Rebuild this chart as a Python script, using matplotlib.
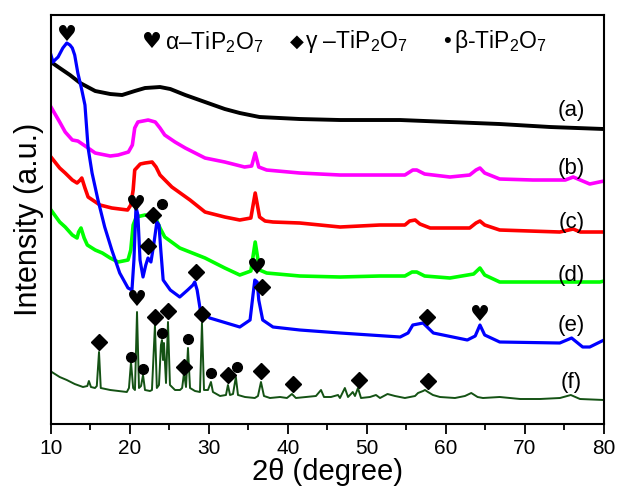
import matplotlib
matplotlib.use('Agg')
import matplotlib.pyplot as plt
from matplotlib.ticker import MultipleLocator

plt.rcParams['font.family'] = ['Liberation Sans', 'DejaVu Sans']
plt.rcParams['mathtext.fontset'] = 'custom'
plt.rcParams['mathtext.rm'] = 'Liberation Sans'
plt.rcParams['mathtext.it'] = 'Liberation Sans'

# XRD patterns, 2theta (degree) vs intensity (a.u., stacked)
a_x = [10, 11.1, 12.4, 13.7, 15.6, 17.5, 19.0, 20.6, 21.9, 23.8, 25.1, 27.0, 29.5, 32.0, 33.9,
       36.4, 41.5, 46.6, 54.2, 60.5, 66.8, 73.2, 80]
a_y = [362, 356, 349, 341, 333, 330, 329, 333, 336, 337, 335, 329, 322, 315, 311,
       307, 305, 304, 304, 302, 300, 297, 295]

b_x = [10, 11.1, 11.8, 12.7, 13.4, 14.7, 15.6, 17.5, 18.5, 19.8, 20.3, 20.6, 21.0, 22.3, 23.2,
       23.8, 24.4, 25.7, 27.0, 29.5, 32.0, 34.5, 35.4, 35.85, 36.3, 37.3, 41.5, 46.6,
       51.6, 54.8, 55.8, 56.3, 57.3, 60.5, 63.0, 63.8, 64.3, 64.9, 66.8, 71.0, 75.1, 76.1,
       77.0, 78.2, 80]
b_y = [317, 302, 292, 284, 283, 276, 271, 268, 269, 272, 279, 296, 302, 304, 302,
       296, 289, 282, 276, 266, 262, 257, 258, 271, 257, 254, 251, 249,
       249, 249, 254, 254, 250, 247, 249, 254, 256, 251, 245, 244, 244, 247,
       244, 240, 243]

c_x = [10, 11.1, 11.8, 12.7, 13.3, 13.7, 13.9, 14.3, 14.7, 16.2, 17.7, 19.7, 20.1, 20.4, 20.6,
       21.3, 21.9, 22.8, 23.3, 23.8, 25.3, 27.6, 29.5, 32.0, 33.9, 35.3, 35.85, 36.4,
       37.1, 38.1, 41.5, 46.6, 51.6, 54.8, 55.4, 56.1, 56.7, 58.0, 63.0, 63.8, 64.3, 64.9,
       66.8, 74.4, 76.1, 77.0, 80]
c_y = [267, 256, 251, 244, 241, 244, 246, 236, 227, 219, 216, 214, 219, 234, 254,
       260, 261, 262, 257, 249, 237, 224, 212, 207, 204, 206, 231, 207,
       203, 202, 201, 197, 199, 199, 203, 204, 200, 196, 196, 201, 203, 199,
       194, 192, 195, 192, 192]

d_x = [10, 11.1, 11.8, 12.7, 13.3, 13.5, 13.8, 14.2, 14.6, 15.6, 16.5, 17.5, 18.5, 19.75, 20.1,
       20.4, 20.8, 21.9, 23.2, 23.8, 24.4, 26.3, 29.5, 32.0, 33.9, 35.3, 35.85, 36.4,
       37.3, 41.5, 46.6, 51.6, 54.8, 55.7, 56.3, 57.3, 60.5, 63.5, 64.3, 64.9, 66.8, 79.5, 80]
d_y = [214, 202, 197, 189, 186, 192, 196, 186, 179, 174, 171, 166, 162, 164, 174,
       199, 207, 209, 207, 196, 187, 176, 166, 156, 149, 153, 182, 154,
       151, 148, 147, 148, 148, 152, 152, 148, 146, 150, 156, 149, 142, 142, 143]

e_x = [10, 10.25, 10.5, 10.9, 11.5, 12.0, 12.4, 12.7, 13.0, 13.4, 13.9, 14.3, 14.7, 15.2, 15.95,
       16.8, 17.7, 18.7, 19.75, 20.25, 20.5, 20.76, 21.0, 21.27, 21.65, 22.0, 22.28, 22.65,
       23.0, 23.4, 23.67, 23.9, 24.2, 25.1, 26.3, 27.3, 27.97, 28.2, 28.5, 28.9, 30.1, 33.9,
       35.2, 35.57, 35.8, 36.1, 36.3, 36.8, 38.1, 41.5, 46.6, 54.2, 55.2, 55.8, 57.1, 58.4,
       62.7, 63.7, 64.3, 64.9, 66.8, 74.4, 75.9, 77.3, 78.2, 80]
e_y = [369, 362, 364, 367, 376, 381, 379, 376, 369, 351, 334, 319, 276, 251, 224,
       197, 174, 151, 136, 134, 164, 217, 209, 164, 147, 159, 166, 162,
       179, 202, 199, 174, 144, 134, 127, 134, 139, 142, 134, 114, 106, 97,
       104, 129, 144, 142, 124, 104, 97, 94, 91, 87, 91, 99, 101, 91,
       84, 88, 99, 89, 82, 81, 86, 77, 77, 84]

f_x = [10.1, 11.1, 12.0, 13.0, 14.05, 14.6, 14.8, 15.06, 15.57, 15.8, 16.08, 16.3, 17.5, 19.6,
       19.87, 20.13, 20.4, 20.63, 20.89, 21.14, 21.4, 21.65, 21.9, 22.53, 22.78, 23.16, 23.4,
       23.67, 23.92, 24.05, 24.18, 24.3, 24.56, 24.81, 25.06, 25.7, 26.33, 26.6, 26.84, 27.09,
       27.34, 27.6, 28.23, 28.86, 29.11, 29.37, 29.87, 30.25, 30.5, 31.4, 32.15, 32.4, 32.66,
       33.04, 33.4, 33.67, 34.56, 35.8, 36.2, 36.58, 36.96, 37.72, 38.99, 39.87, 40.5, 41.0,
       42.27, 43.54, 44.18, 44.56, 45.44, 46.33, 46.58, 47.2, 47.6, 47.97, 48.2, 48.48, 48.86,
       49.24, 50.38, 51.14, 51.65, 52.6, 53.54, 54.8, 56.08, 56.46, 57.1, 57.34, 57.72, 58.35,
       59.24, 61.14, 62.4, 63.2, 64.0, 64.68, 66.8, 69.4, 71.9, 74.43, 75.8, 76.96, 80]
f_y = [52, 47, 44, 40, 37, 38, 43, 37, 36, 38, 72, 36, 34, 32,
       36, 62, 36, 34, 112, 36, 38, 49, 34, 33, 34, 99, 36,
       39, 79, 84, 64, 81, 41, 102, 39, 34, 34, 36, 51, 37,
       76, 36, 33, 32, 101, 34, 34, 42, 32, 28, 29, 39, 29,
       30, 47, 29, 27, 26, 28, 42, 28, 26, 27, 26, 30, 26,
       27, 28, 34, 27, 27, 29, 26, 36, 27, 30, 32, 28, 36,
       26, 27, 29, 26, 30, 28, 26, 28, 31, 33, 34, 32, 29,
       27, 26, 28, 31, 27, 26, 27, 25, 25, 26, 29, 25, 24]

# phase markers (2theta, intensity)
heart_x = [12.03, 20.76, 36.1, 20.89, 64.3]
heart_y = [389, 219, 156, 124, 109]
diamond_x = [22.9, 22.28, 28.35, 36.7, 57.6, 16.08, 23.16, 24.81, 26.84, 29.1, 32.4, 36.6,
             40.6, 49.0, 57.7]
diamond_y = [209, 178, 152, 137, 107, 82, 107, 113, 57, 110, 49, 53, 40, 44, 43]
dot_x = [24.0, 20.13, 21.65, 24.05, 27.4, 30.3, 33.5]
dot_y = [220, 67, 55, 91, 85, 51, 57]

labels = ['(a)', '(b)', '(c)', '(d)', '(e)', '(f)']
label_y = [314, 256, 202, 149, 99, 42]

fig = plt.figure(figsize=(6.21, 4.94), dpi=100)
ax = fig.add_axes([0.0821, 0.1417, 0.8905, 0.8279])

ax.plot(a_x, a_y, color='black', lw=2.8)
ax.plot(b_x, b_y, color='#ff00ff', lw=2.6)
ax.plot(c_x, c_y, color='#ff0000', lw=2.6)
ax.plot(d_x, d_y, color='#00ff00', lw=2.6)
ax.plot(f_x, f_y, color='#145214', lw=1.4)
ax.plot(e_x, e_y, color='#0000ff', lw=2.3)

for hx, hy in zip(heart_x, heart_y):
    ax.text(hx, hy, '\u2665', fontsize=16, ha='center', va='center',
            family='DejaVu Sans', color='black', zorder=5)
ax.plot(diamond_x, diamond_y, 'D', color='black', ms=8.5, ls='none', zorder=5)
ax.plot(dot_x, dot_y, 'o', color='black', ms=7, ls='none', zorder=5)

for lab, ly in zip(labels, label_y):
    ax.text(75.9, ly, lab, fontsize=16, ha='center', va='center')

# phase legend
ax.text(0.183, 0.935, '\u2665', transform=ax.transAxes, fontsize=16, ha='center',
        va='center', family='DejaVu Sans')
ax.text(0.206, 0.935, '\u03b1–TiP$_2$O$_7$', transform=ax.transAxes, fontsize=16.5,
        ha='left', va='center')
ax.text(0.444, 0.935, '\u25c6', transform=ax.transAxes, fontsize=13, ha='center',
        va='center', family='DejaVu Sans')
ax.text(0.459, 0.935, '\u03b3 –TiP$_2$O$_7$', transform=ax.transAxes, fontsize=16.5,
        ha='left', va='center')
ax.text(0.716, 0.935, '\u2022', transform=ax.transAxes, fontsize=16, ha='center',
        va='center')
ax.text(0.728, 0.935, '\u03b2-TiP$_2$O$_7$', transform=ax.transAxes, fontsize=16.5,
        ha='left', va='center')

ax.set_xlim(10, 80)
ax.set_ylim(0, 409)
ax.xaxis.set_major_locator(MultipleLocator(10))
ax.xaxis.set_minor_locator(MultipleLocator(5))
ax.set_yticks([])
ax.tick_params(axis='x', which='major', direction='out', length=7, width=1.3, labelsize=15)
ax.tick_params(axis='x', which='minor', direction='out', length=4, width=1.3)
for s in ax.spines.values():
    s.set_linewidth(1.5)

ax.set_xlabel('2\u03b8 (degree)', fontsize=21, labelpad=0)
ax.set_ylabel('Intensity (a.u.)', fontsize=22, labelpad=5)

fig.savefig('out.png', dpi=100)
